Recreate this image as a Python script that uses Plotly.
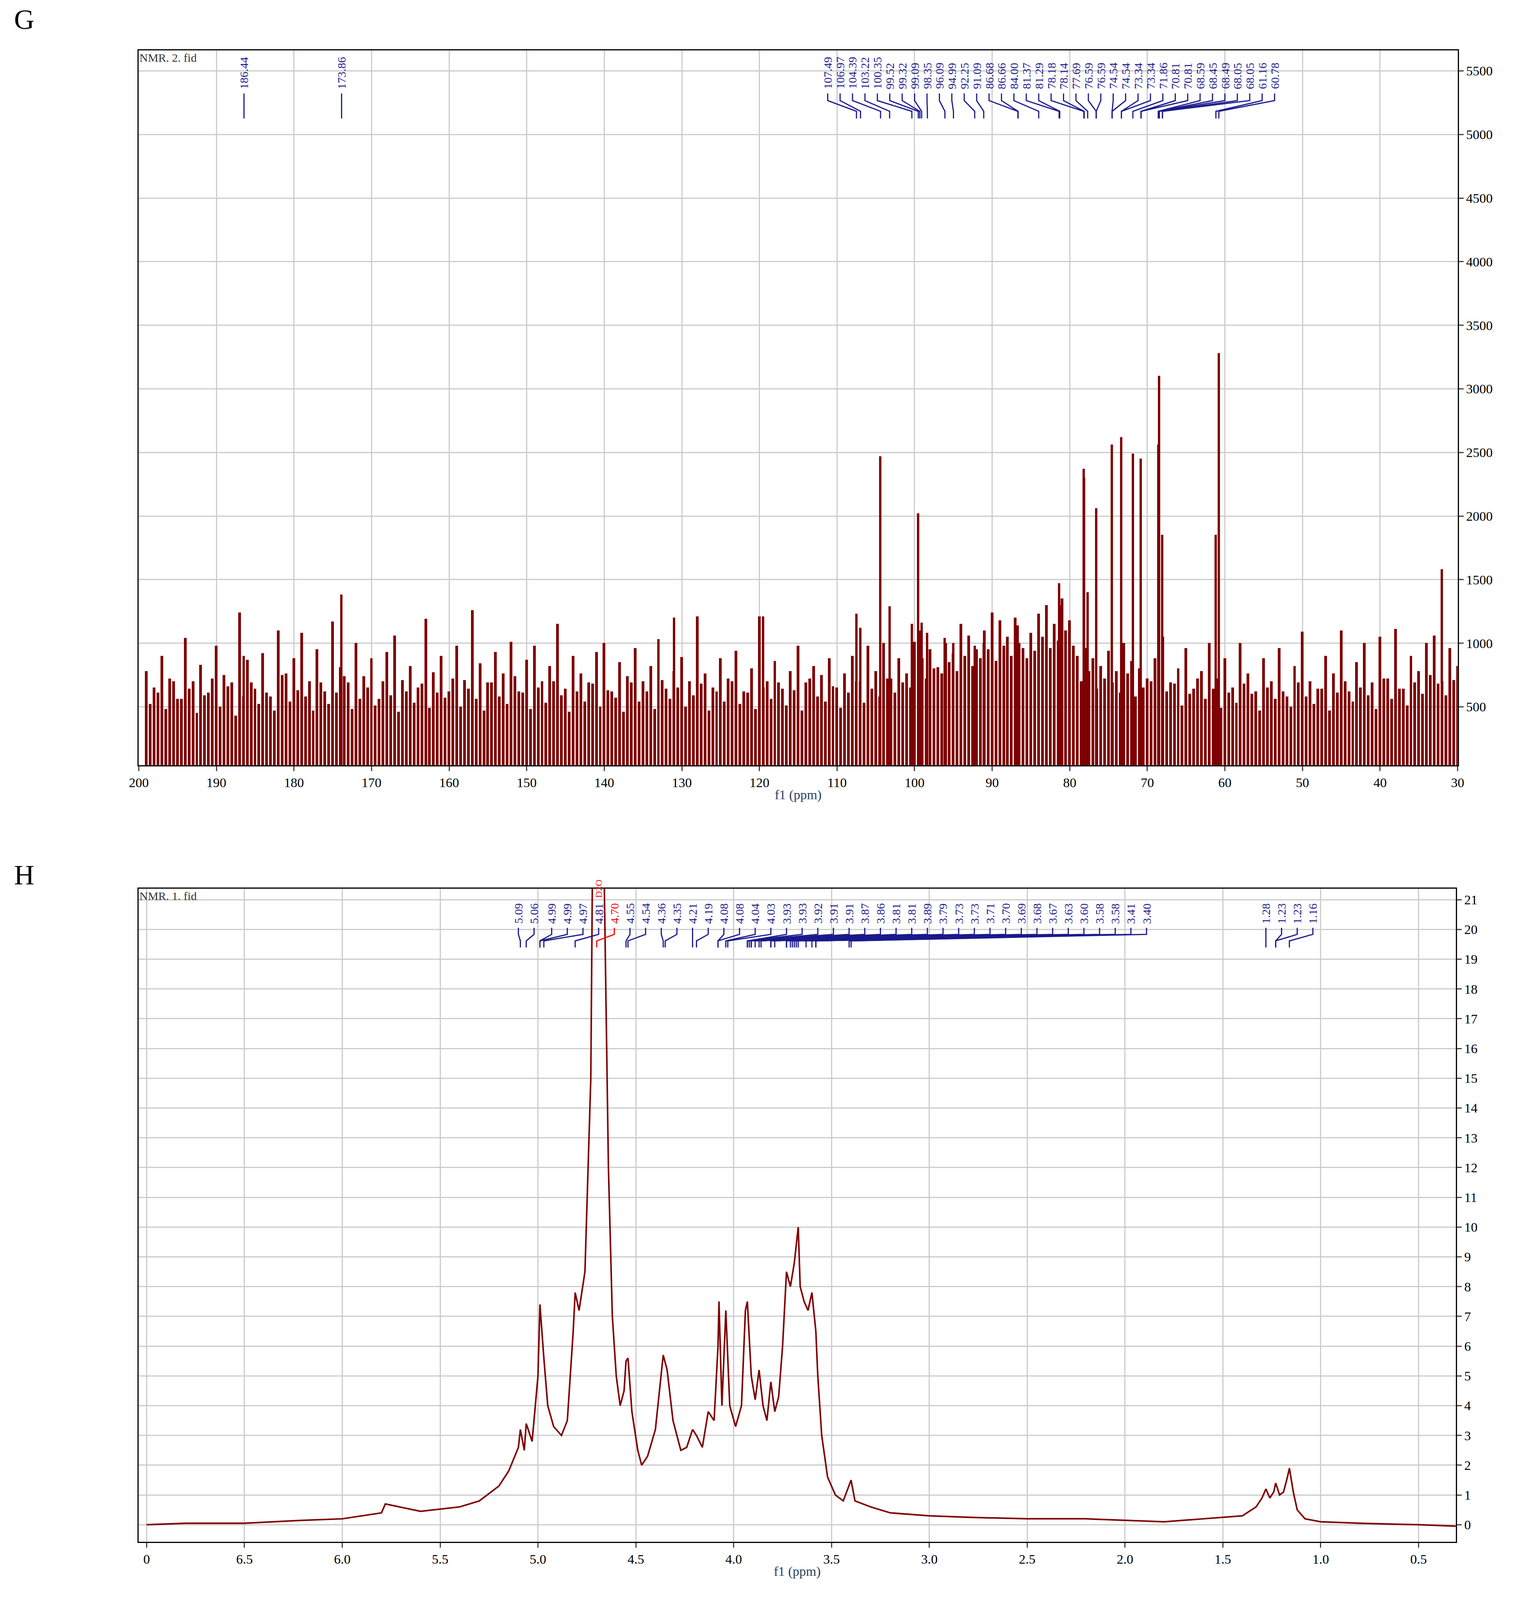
import plotly.graph_objects as go

# 13C panel (G)
c13_noise_x = list(range(199, 29, -1))
c13_noise_y = [780, 650, 900, 720, 560, 1040, 700, 830, 610, 980, 750, 690, 1240, 870, 640, 920, 580, 1100, 760, 880,
               1080, 700, 950, 620, 1170, 810, 690, 1000, 740, 880, 560, 930, 1060, 710, 820, 650, 1190, 770, 900, 620,
               980, 710, 1260, 840, 690, 930, 760, 1010, 620, 870, 980, 700, 820, 1150, 640, 900, 760, 690, 930, 1000,
               620, 850, 740, 960, 700, 820, 1030, 640, 780, 890, 700, 1210, 760, 650, 880, 720, 940, 620, 800, 1210,
               700, 860, 640, 780, 980, 690, 820, 750, 880, 650, 760, 900, 700, 980, 780, 1000, 720, 880, 760, 1010,
               880, 950, 810, 1000, 920, 1150, 1060, 950, 1100, 1240, 1180, 1050, 1200, 960, 1080, 1230, 1300, 1150, 1350, 1180,
               900, 960, 880, 820, 940, 780, 1000, 860, 800, 720, 880, 1050, 690, 800, 960, 640, 780, 1000, 720, 880,
               650, 1000, 760, 620, 880, 700, 960, 580, 820, 1090, 700, 640, 900, 760, 1100, 620, 850, 1000, 690, 1050,
               720, 1110, 640, 900, 780, 1000, 1060, 700, 960, 820]
c13_noise2_x = [x - 0.5 for x in c13_noise_x]
c13_noise2_y = [520, 610, 480, 700, 560, 640, 450, 590, 720, 500, 660, 430, 580, 690, 520, 610, 470, 750, 540, 630,
                580, 470, 690, 520, 610, 740, 480, 560, 650, 510, 700, 590, 460, 620, 530, 680, 490, 610, 570, 720,
                500, 640, 560, 470, 690, 580, 520, 740, 610, 480, 650, 530, 700, 590, 460, 620, 540, 680, 500, 630,
                570, 460, 690, 540, 620, 480, 710, 560, 650, 500, 590, 680, 470, 620, 540, 700, 520, 610, 480, 650,
                560, 690, 510, 630, 470, 720, 580, 540, 660, 490, 610, 700, 530, 640, 580, 720, 610, 690, 650, 780,
                720, 800, 760, 850, 780, 900, 820, 880, 950, 860, 980, 900, 1000, 880, 940, 1050, 960, 1020, 1100, 980,
                700, 780, 640, 720, 690, 610, 760, 580, 650, 700, 540, 620, 680, 510, 600, 720, 560, 640, 490, 610,
                530, 680, 600, 470, 650, 560, 620, 500, 690, 580, 520, 640, 470, 610, 700, 540, 650, 590, 480, 720,
                560, 640, 510, 690, 600, 750, 680, 590, 710, 640]
c13_peak_x = [186.44, 173.86, 131.0, 119.5, 107.49, 106.97, 104.39, 103.22, 100.35, 99.52, 99.32, 99.09, 98.35,
              96.09, 94.99, 92.25, 91.09, 86.68, 84.00, 81.37, 81.29, 78.18, 78.14, 77.69, 76.59, 74.54, 73.34,
              71.86, 70.81, 68.59, 68.45, 68.49, 68.05, 61.16, 60.78, 32.0]
c13_peak_y = [900, 1380, 1200, 1210, 1230, 1120, 2470, 1290, 1150, 2020, 1100, 1160, 1080,
              1040, 1000, 980, 1000, 1140, 1100, 1470, 1300, 2370, 2300, 1400, 2060, 2560, 2620,
              2490, 2450, 2560, 3100, 2100, 1850, 1850, 3280, 1580]
c13_labels = ["107.49", "106.97", "104.39", "103.22", "100.35", "99.52", "99.32", "99.09", "98.35", "96.09",
              "94.99", "92.25", "91.09", "86.68", "86.66", "84.00", "81.37", "81.29", "78.18", "78.14", "77.69",
              "76.59", "76.59", "74.54", "74.54", "73.34", "73.34", "71.86", "70.81", "70.81", "68.59", "68.45",
              "68.49", "68.05", "68.05", "61.16", "60.78"]
c13_label_pos = [111.2, 109.6, 108.0, 106.4, 104.8, 103.2, 101.6, 100.0, 98.4, 96.8,
                 95.2, 93.6, 92.0, 90.4, 88.8, 87.2, 85.6, 84.0, 82.4, 80.8, 79.2,
                 77.6, 76.0, 74.4, 72.8, 71.2, 69.6, 68.0, 66.4, 64.8, 63.2, 61.6,
                 60.0, 58.4, 56.8, 55.2, 53.6]
c13_label_target = [107.49, 106.97, 104.39, 103.22, 100.35, 99.52, 99.32, 99.09, 98.35, 96.09,
                    94.99, 92.25, 91.09, 86.68, 86.66, 84.00, 81.37, 81.29, 78.18, 78.14, 77.69,
                    76.59, 76.59, 74.54, 74.54, 73.34, 73.34, 71.86, 70.81, 70.81, 68.59, 68.45,
                    68.49, 68.05, 68.05, 61.16, 60.78]
c13_single = [("186.44", 186.44), ("173.86", 173.86)]

# 1H panel (H)
h1_x = [7.0, 6.8, 6.5, 6.2, 6.0, 5.8, 5.78, 5.6, 5.4, 5.3, 5.2, 5.15, 5.1, 5.09, 5.07, 5.06, 5.03, 5.0, 4.99, 4.97,
        4.95, 4.92, 4.88, 4.85, 4.82, 4.81, 4.79, 4.76, 4.73, 4.71, 4.70, 4.68, 4.66, 4.64, 4.62, 4.60, 4.58,
        4.56, 4.55, 4.54, 4.52, 4.49, 4.47, 4.44, 4.40, 4.37, 4.36, 4.34, 4.31, 4.27, 4.24, 4.21, 4.19, 4.16,
        4.13, 4.10, 4.08, 4.075, 4.06, 4.04, 4.02, 3.99, 3.96, 3.94, 3.93, 3.91, 3.89, 3.87, 3.85, 3.83, 3.81,
        3.79, 3.77, 3.75, 3.73, 3.71, 3.69, 3.67, 3.66, 3.64, 3.62, 3.60, 3.58, 3.57, 3.55, 3.52, 3.48, 3.44,
        3.41, 3.40, 3.38, 3.3, 3.2, 3.0, 2.8, 2.5, 2.2, 2.0, 1.8, 1.6, 1.4, 1.33, 1.30, 1.28, 1.26, 1.24, 1.23,
        1.21, 1.19, 1.17, 1.16, 1.14, 1.12, 1.08, 1.0, 0.8, 0.5, 0.3]
h1_y = [0.0, 0.05, 0.05, 0.15, 0.2, 0.4, 0.7, 0.45, 0.6, 0.8, 1.3, 1.8, 2.6, 3.2, 2.5, 3.4, 2.8, 5.0, 7.4, 5.6,
        4.0, 3.3, 3.0, 3.5, 6.5, 7.8, 7.2, 8.5, 15, 30, 40, 30, 21, 12, 7, 5, 4.0,
        4.5, 5.5, 5.6, 3.8, 2.5, 2.0, 2.3, 3.2, 5.0, 5.7, 5.2, 3.5, 2.5, 2.6, 3.2, 3.0, 2.6,
        3.8, 3.5, 6.0, 7.5, 4.0, 7.2, 4.0, 3.3, 4.0, 7.2, 7.5, 5.0, 4.2, 5.2, 4.0, 3.5, 4.8,
        3.8, 4.3, 6.0, 8.5, 8.0, 8.8, 10.0, 8.0, 7.5, 7.2, 7.8, 6.5, 5.0, 3.0, 1.6, 1.0, 0.8,
        1.3, 1.5, 0.8, 0.6, 0.4, 0.3, 0.25, 0.2, 0.2, 0.15, 0.1, 0.2, 0.3, 0.6, 0.9, 1.2, 0.9, 1.1, 1.4,
        1.0, 1.1, 1.6, 1.9, 1.1, 0.5, 0.2, 0.1, 0.05, 0.0, -0.05]
h1_labels = ["5.09", "5.06", "4.99", "4.99", "4.97", "4.81", "4.70", "4.55", "4.54", "4.36", "4.35", "4.21",
             "4.19", "4.08", "4.08", "4.04", "4.03", "3.93", "3.93", "3.92", "3.91", "3.91", "3.87", "3.86",
             "3.81", "3.81", "3.89", "3.79", "3.73", "3.73", "3.71", "3.70", "3.69", "3.68", "3.67", "3.63",
             "3.60", "3.58", "3.58", "3.41", "3.40"]
h1_label_target = [5.09, 5.06, 4.99, 4.99, 4.97, 4.81, 4.70, 4.55, 4.54, 4.36, 4.35, 4.21,
                   4.19, 4.08, 4.08, 4.04, 4.03, 3.93, 3.93, 3.92, 3.91, 3.91, 3.87, 3.86,
                   3.81, 3.81, 3.89, 3.79, 3.73, 3.73, 3.71, 3.70, 3.69, 3.68, 3.67, 3.63,
                   3.60, 3.58, 3.58, 3.41, 3.40]
h1_label_pos = [5.10, 5.02, 4.93, 4.85, 4.77, 4.69, 4.61, 4.53, 4.45, 4.37, 4.29, 4.21,
                4.13, 4.05, 3.97, 3.89, 3.81, 3.73, 3.65, 3.57, 3.49, 3.41, 3.33, 3.25,
                3.17, 3.09, 3.01, 2.93, 2.85, 2.77, 2.69, 2.61, 2.53, 2.45, 2.37, 2.29,
                2.21, 2.13, 2.05, 1.97, 1.89]
h1_labels2 = ["1.28", "1.23", "1.23", "1.16"]
h1_label2_target = [1.28, 1.23, 1.23, 1.16]
h1_label2_pos = [1.28, 1.20, 1.12, 1.04]

RED = "#7f0000"
BLUE = "#1a1a8c"
FONT = "Liberation Serif"

fig = go.Figure()
fig.add_trace(go.Bar(x=c13_noise_x, y=c13_noise_y, width=0.35, marker_color=RED, marker_line_width=0,
                     xaxis="x", yaxis="y", showlegend=False))
fig.add_trace(go.Bar(x=c13_noise2_x, y=c13_noise2_y, width=0.35, marker_color=RED, marker_line_width=0,
                     xaxis="x", yaxis="y", showlegend=False))
fig.add_trace(go.Bar(x=c13_peak_x, y=c13_peak_y, width=0.3, marker_color=RED, marker_line_width=0,
                     xaxis="x", yaxis="y", showlegend=False))
fig.add_trace(go.Scatter(x=h1_x, y=h1_y, mode="lines", line=dict(color=RED, width=4),
                         xaxis="x2", yaxis="y2", showlegend=False))

ann = []
shapes = []
lab_font = dict(family=FONT, size=30, color=BLUE)

def add_labels(labels, pos, target, xref, yref, ytext, y1, y2, y3, y4, colors=None):
    for i, (t, p, tg) in enumerate(zip(labels, pos, target)):
        col = colors[i] if colors else BLUE
        ann.append(dict(x=p, y=ytext, xref=xref, yref=yref, text=t, textangle=-90, showarrow=False,
                        yanchor="bottom", font=dict(family=FONT, size=30, color=col)))
        shapes.append(dict(type="path", xref=xref, yref=yref, line=dict(color=col, width=3),
                           path=f"M {p},{y1} L {p},{y2} L {tg},{y3} L {tg},{y4}"))

add_labels(c13_labels, c13_label_pos, c13_label_target, "x", "y domain", 0.945, 0.94, 0.93, 0.915, 0.905)
for t, p in c13_single:
    ann.append(dict(x=p, y=0.945, xref="x", yref="y domain", text=t, textangle=-90, showarrow=False,
                    yanchor="bottom", font=lab_font))
    shapes.append(dict(type="line", xref="x", yref="y domain", x0=p, x1=p, y0=0.905, y1=0.94,
                       line=dict(color=BLUE, width=3)))
h1_cols = [BLUE] * len(h1_labels)
h1_cols[6] = "red"
add_labels(h1_labels, h1_label_pos, h1_label_target, "x2", "y2 domain", 0.945, 0.94, 0.93, 0.92, 0.91, h1_cols)
ann.append(dict(x=4.69, y=0.985, xref="x2", yref="y2 domain", text="D2O", textangle=-90, showarrow=False,
                yanchor="bottom", font=dict(family=FONT, size=24, color="red")))
add_labels(h1_labels2, h1_label2_pos, h1_label2_target, "x2", "y2 domain", 0.945, 0.94, 0.93, 0.92, 0.91)

ann.append(dict(x=0.0, y=1.0, xref="paper", yref="paper", text="G", showarrow=False, xanchor="left",
                yanchor="top", font=dict(family=FONT, size=72, color="black")))
ann.append(dict(x=0.0, y=0.458, xref="paper", yref="paper", text="H", showarrow=False, xanchor="left",
                yanchor="top", font=dict(family=FONT, size=72, color="black")))
ann.append(dict(x=200, y=1.0, xref="x", yref="y domain", text="NMR. 2. fid", showarrow=False, xanchor="left",
                yanchor="top", font=dict(family=FONT, size=30, color="#333")))
ann.append(dict(x=7.04, y=1.0, xref="x2", yref="y2 domain", text="NMR. 1. fid", showarrow=False, xanchor="left",
                yanchor="top", font=dict(family=FONT, size=30, color="#333")))

ax = dict(showline=True, linecolor="black", linewidth=3, mirror=True, showgrid=True, gridcolor="#cccccc",
          gridwidth=3, ticks="outside", ticklen=12, tickwidth=3, zeroline=False,
          tickfont=dict(family=FONT, size=34, color="black"))

fig.update_layout(
    width=3882, height=4040, plot_bgcolor="white", paper_bgcolor="white", bargap=0, barmode="overlay",
    margin=dict(l=0, r=0, t=0, b=0),
    xaxis=dict(ax, domain=[325 / 3882, 3740 / 3882], range=[200, 30], dtick=10, anchor="y",
               title=dict(text="f1 (ppm)", font=dict(family=FONT, size=34), standoff=2)),
    yaxis=dict(ax, domain=[1 - 2410 / 4990, 1 - 150 / 4990], range=[40, 5660], side="right",
               tickvals=[500, 1000, 1500, 2000, 2500, 3000, 3500, 4000, 4500, 5000, 5500], anchor="x"),
    xaxis2=dict(ax, domain=[325 / 3882, 3735 / 3882], range=[7.04, 0.31], anchor="y2",
                tickvals=[7.0, 6.5, 6.0, 5.5, 5.0, 4.5, 4.0, 3.5, 3.0, 2.5, 2.0, 1.5, 1.0, 0.5],
                ticktext=["0", "6.5", "6.0", "5.5", "5.0", "4.5", "4.0", "3.5", "3.0", "2.5", "2.0", "1.5", "1.0", "0.5"],
                title=dict(text="f1 (ppm)", font=dict(family=FONT, size=34), standoff=2)),
    yaxis2=dict(ax, domain=[1 - 4865 / 4990, 1 - 2800 / 4990], range=[-0.57, 21.37], side="right",
                dtick=1, anchor="x2"),
    annotations=ann, shapes=shapes,
)
fig.write_html("out.html")
